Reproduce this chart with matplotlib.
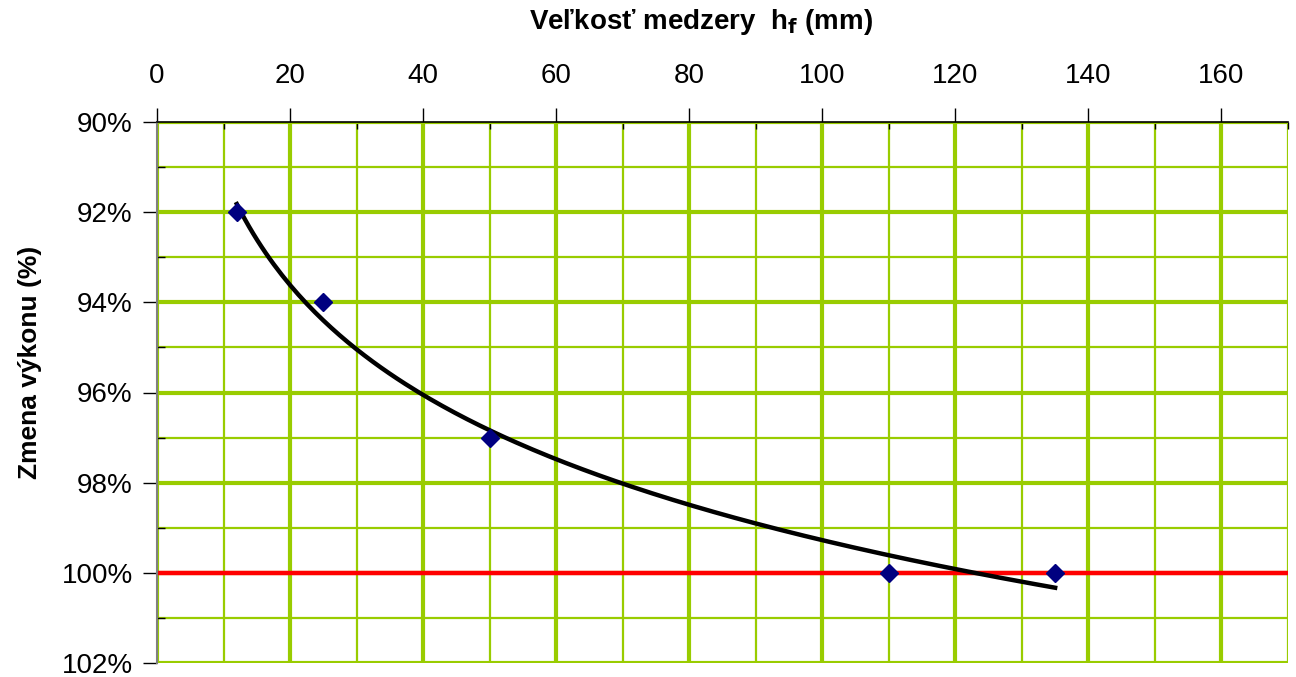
import numpy as np
import matplotlib
matplotlib.use("Agg")
import matplotlib.pyplot as plt
from matplotlib.ticker import MultipleLocator, FuncFormatter

plt.rcParams['font.family'] = ['Liberation Sans', 'DejaVu Sans']

# Data
gap_mm = [12, 25, 50, 110, 135]
power_pct = [92, 94, 97, 100, 100]
reference_pct = 100
x_ticks = [0, 20, 40, 60, 80, 100, 120, 140, 160]
y_ticks = [90, 92, 94, 96, 98, 100, 102]

fig = plt.figure(figsize=(12.96, 6.77), dpi=100)
ax = fig.add_axes([157/1296, 1-663/677, (1288-157)/1296, (663-122)/677])

green = '#99CC00'
ax.set_xlim(0, 170)
ax.set_ylim(102, 90)

ax.set_xticks(x_ticks)
ax.set_yticks(y_ticks)
ax.xaxis.set_minor_locator(MultipleLocator(10))
ax.yaxis.set_minor_locator(MultipleLocator(1))
ax.yaxis.set_major_formatter(FuncFormatter(lambda v, p: f"{v:.0f}%"))

ax.grid(which='major', color=green, linewidth=3.0, zorder=0)
ax.grid(which='minor', color=green, linewidth=1.6, zorder=0)
ax.set_axisbelow(True)

ax.xaxis.tick_top()
ax.tick_params(axis='x', which='major', direction='out', length=10, width=1, labelsize=20, pad=14, colors='black')
ax.tick_params(axis='x', which='minor', direction='in', length=5, width=1)
ax.tick_params(axis='y', which='major', direction='out', length=10, width=1, labelsize=20, pad=7.5)
ax.tick_params(axis='y', which='minor', direction='in', length=6, width=1)

for s in ['right', 'bottom']:
    ax.spines[s].set_visible(False)
ax.spines['top'].set_color('black')
ax.spines['top'].set_linewidth(1.2)
ax.spines['left'].set_color('#808080')
ax.spines['left'].set_linewidth(1.5)
ax.spines['top'].set_zorder(3)
ax.spines['left'].set_zorder(3)

# Reference line
ax.axhline(reference_pct, color='#FF0000', linewidth=3.2, zorder=2)

# Logarithmic trendline
coef = np.polyfit(np.log(gap_mm), power_pct, 1)
xt = np.linspace(min(gap_mm), max(gap_mm), 200)
ax.plot(xt, coef[0]*np.log(xt) + coef[1], color='black', linewidth=3.2, zorder=3)

# Points
ax.plot(gap_mm, power_pct, linestyle='none', marker='D', markersize=9,
        color='#000080', zorder=4)

fig.text(701/1296, 1-22/677, r"Veľkosť medzery  h$_\mathbf{f}$ (mm)", ha='center', va='center',
         fontsize=20, fontweight='bold')
fig.text(30/1296, 1-362/677, "Zmena výkonu (%)", ha='center', va='center',
         rotation=90, fontsize=19, fontweight='bold')

fig.savefig('out.png', dpi=100)
